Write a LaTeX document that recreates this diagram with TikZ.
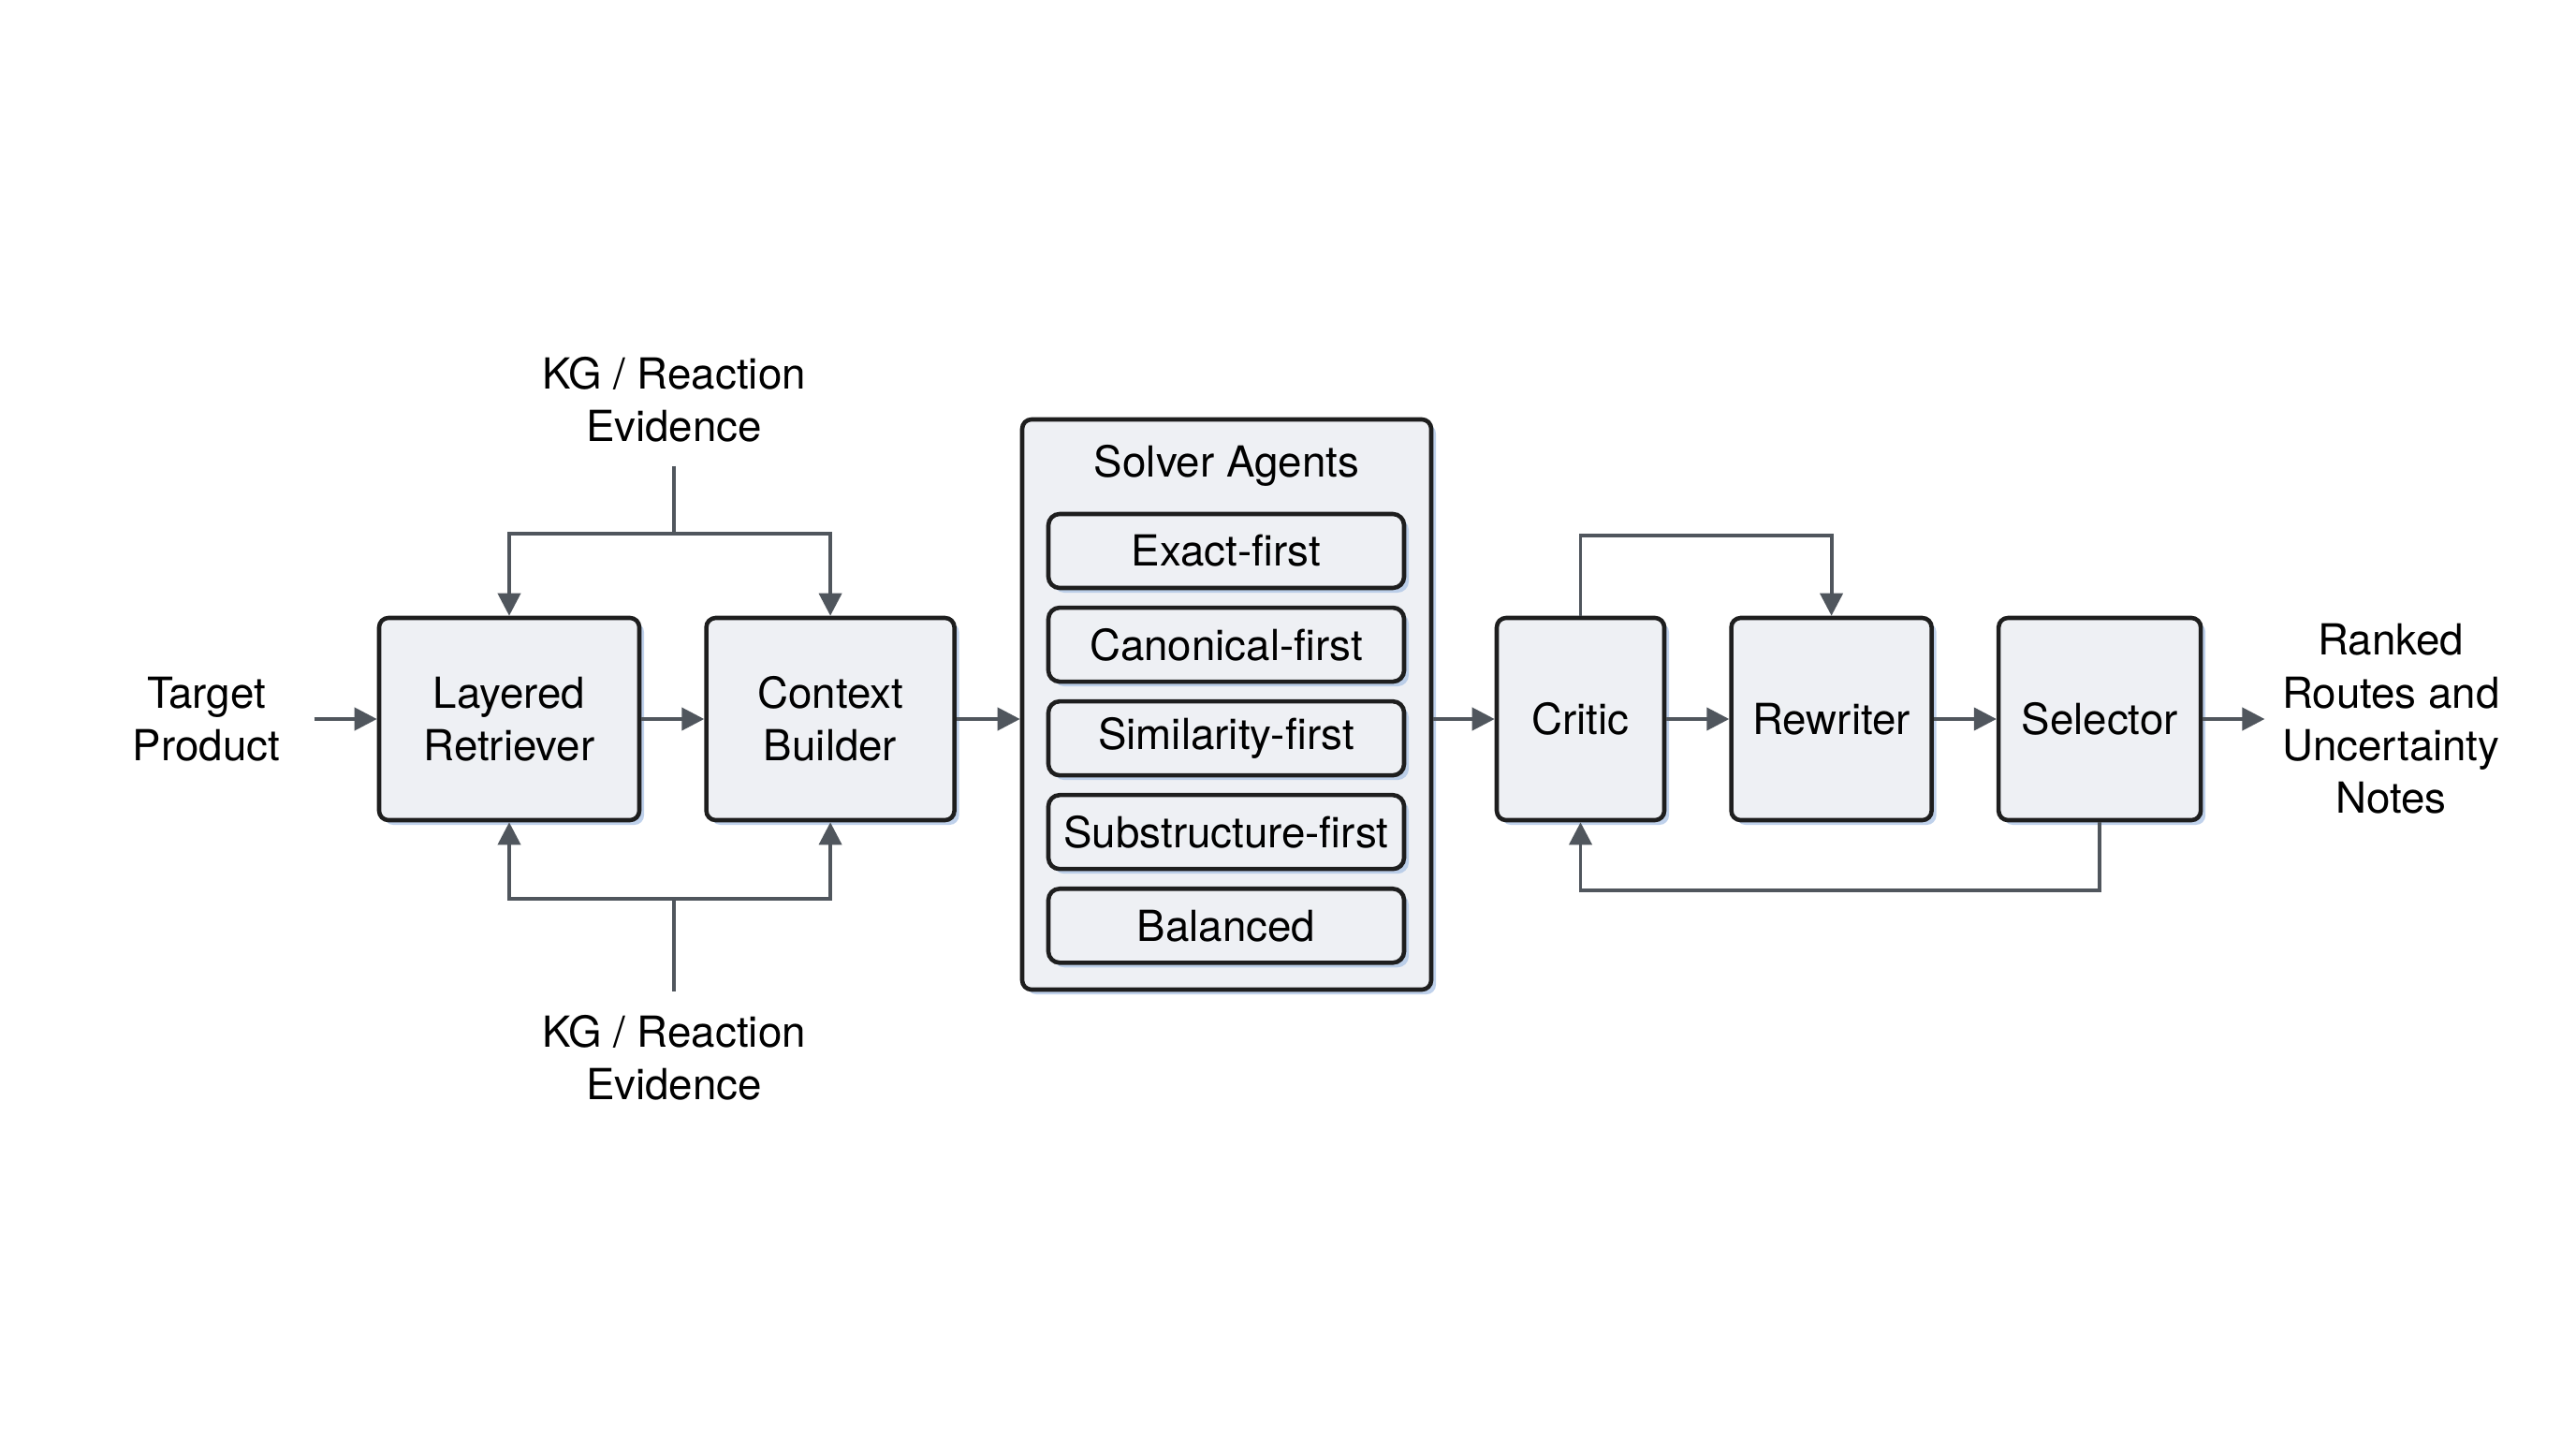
\documentclass[tikz,border=0pt]{standalone}
\usepackage{fontspec}
\setmainfont{TeX Gyre Heros}
\usetikzlibrary{positioning,arrows.meta,shadows}
\definecolor{boxfill}{HTML}{EEF0F4}
\definecolor{boxline}{HTML}{1E1E1E}
\definecolor{arrowgray}{HTML}{50565D}
\definecolor{shadowblue}{HTML}{AFC6E6}

\begin{document}
\begin{tikzpicture}[
    font=\fontsize{13pt}{16pt}\selectfont,
    node distance=0.67cm,
    box/.style={rectangle, draw=boxline, line width=1.3pt, fill=boxfill, rounded corners=0.1cm, align=center, minimum height=2.16cm,
        drop shadow={shadow xshift=0.05cm, shadow yshift=-0.05cm, fill=shadowblue, opacity=0.8}},
    agent/.style={box, minimum width=3.8cm, minimum height=0.79cm, inner sep=0pt, rounded corners=0.12cm},
    note/.style={align=center, inner sep=0.25cm},
    arrow/.style={-{Triangle[length=0.24cm, width=0.24cm]}, line width=1.1pt, draw=arrowgray},
    line/.style={line width=1.1pt, draw=arrowgray}
]
\useasboundingbox (0,0) rectangle (27.52,-15.36);

% retrieval stage
\node[box, minimum width=2.78cm] (retriever) at (5.44,-7.68) {Layered\\Retriever};
\node[box, minimum width=2.65cm, right=of retriever] (builder) {Context\\Builder};
\node[note, left=of retriever, inner xsep=0.36cm] (target) {Target\\Product};

\node[note] (kgtop) at (7.20,-4.265) {KG / Reaction\\Evidence};
\node[note] (kgbot) at (7.20,-11.30) {KG / Reaction\\Evidence};
\coordinate (toptee) at (7.20,-5.70);
\coordinate (bottee) at (7.20,-9.60);

% solver agents
\node[box, minimum width=4.37cm, minimum height=6.09cm] (solver) at (13.105,-7.525) {};
\node (solvertitle) at (13.105,-4.97) {Solver Agents};
\node[agent] (exact) at (13.10,-5.885) {Exact-first};
\node[agent, below=0.165cm of exact] (canonical) {Canonical-first};
\node[agent, below=0.165cm of canonical] (similarity) {Similarity-first};
\node[agent, below=0.165cm of similarity] (substructure) {Substructure-first};
\node[agent, below=0.165cm of substructure] (balanced) {Balanced};

% refinement stage
\node[box, minimum width=1.79cm] (critic) at (16.885,-7.68) {Critic};
\node[box, minimum width=2.14cm, right=of critic] (rewriter) {Rewriter};
\node[box, minimum width=2.16cm, right=of rewriter] (selector) {Selector};
\node[note, right=0.66cm of selector, inner xsep=0.18cm] (ranked) {Ranked\\Routes and\\Uncertainty\\Notes};

% main flow
\draw[arrow] (target) -- (retriever);
\draw[arrow] (retriever) -- (builder);
\draw[arrow] (builder.east) -- (builder.east -| solver.west);
\draw[arrow] (critic.west -| solver.east) -- (critic.west);
\draw[arrow] (critic) -- (rewriter);
\draw[arrow] (rewriter) -- (selector);
\draw[arrow] (selector) -- (ranked);

% evidence feeds
\draw[line] (kgtop.south) -- (toptee);
\draw[arrow] (toptee) -| (retriever.north);
\draw[arrow] (toptee) -| (builder.north);
\draw[line] (kgbot.north) -- (bottee);
\draw[arrow] (bottee) -| (retriever.south);
\draw[arrow] (bottee) -| (builder.south);

% feedback loops
\draw[arrow] (critic.north) -- ++(0,0.86) -| (rewriter.north);
\draw[arrow] (selector.south) -- ++(0,-0.73) -| (critic.south);
\end{tikzpicture}
\end{document}
